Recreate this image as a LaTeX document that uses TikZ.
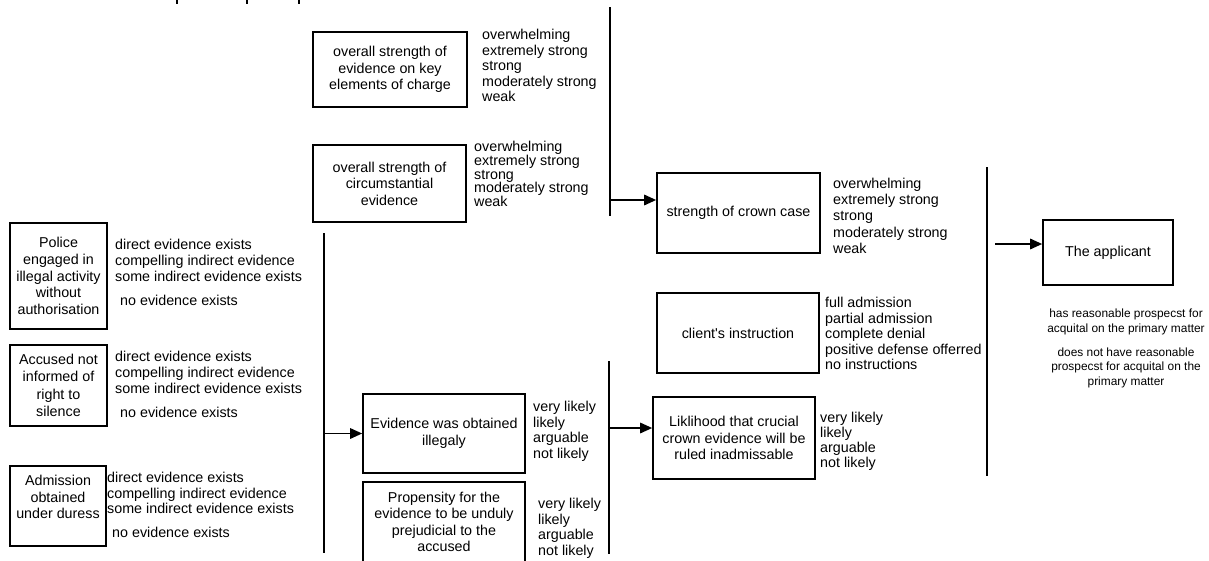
\documentclass[tikz,border=0pt]{standalone}
\usepackage{fontspec}
\setmainfont{Liberation Sans}[Ligatures=TeXOff]
\usetikzlibrary{arrows.meta}
\begin{document}
\begin{tikzpicture}[x=1pt,y=-1pt,
  box/.style={draw, line width=1.7pt, align=center, inner sep=0pt, font=\fontsize{14.3}{16.5}\selectfont},
  opts/.style={anchor=base west, align=left, inner sep=0pt},
  bus/.style={line width=1.7pt},
  arr/.style={line width=1.7pt, -{Triangle[length=12pt,width=10.5pt]}},
  outc/.style={align=center, inner sep=0pt, font=\fontsize{11.9}{14.5}\selectfont}]
\useasboundingbox (0,0) rectangle (1209,560);

% cut-off remnants at the top edge
\draw[line width=1.6pt] (177,0) -- (177,3.5);
\draw[line width=1.6pt] (247,0) -- (247,3.5);
\draw[line width=1.6pt] (299,0) -- (299,3.5);

% boxes
\node[box, minimum width=154pt, minimum height=75pt] (k1) at (390,69.5) {overall strength of\\evidence on key\\elements of charge};
\node[box, minimum width=153pt, minimum height=77pt] (k2) at (389.5,183.5) {overall strength of\\circumstantial\\evidence};
\node[box, minimum width=163pt, minimum height=80pt] (crown) at (738.5,213) {strength of crown case};
\node[box, minimum width=162pt, minimum height=80pt] (client) at (738,333) {client's instruction};
\node[box, minimum width=162pt, minimum height=82pt] (likl) at (734,438) {Liklihood that crucial\\crown evidence will be\\ruled inadmissable};
\node[box, minimum width=162pt, minimum height=79pt] (evid) at (444,433.5) {Evidence was obtained\\illegaly};
\node[box, minimum width=162pt, minimum height=80pt] (prop) at (444,522) {Propensity for the\\evidence to be unduly\\prejudicial to the\\accused};
\node[box, minimum width=97pt, minimum height=106pt, font=\fontsize{14.3}{16.8}\selectfont] (police) at (58.5,276) {Police\\engaged in\\illegal activity\\without\\authorisation};
\node[box, minimum width=97pt, minimum height=81pt, font=\fontsize{14.3}{17.3}\selectfont] (accused) at (58.5,385.5) {Accused not\\informed of\\right to\\silence};
\node[box, minimum width=96pt, minimum height=80pt] (admis) at (58,506) {Admission\\obtained\\under duress\\[1.5pt]};
\node[box, minimum width=130pt, minimum height=65pt] (app) at (1108,252.5) {The applicant};

% option lists (anchor = baseline of the last line)
\node[opts, font=\fontsize{14.3}{15.5}\selectfont] (o1) at (482,101.5) {overwhelming\\extremely strong\\strong\\moderately strong\\weak};
\node[opts, font=\fontsize{14.3}{13.8}\selectfont] (o2) at (474,206.7) {overwhelming\\extremely strong\\strong\\moderately strong\\weak};
\node[opts, font=\fontsize{14.3}{16.2}\selectfont] (o3) at (833,253.3) {overwhelming\\extremely strong\\strong\\moderately strong\\weak};
\node[opts, font=\fontsize{14.3}{15.5}\selectfont] (o4) at (825,369.5) {full admission\\partial admission\\complete denial\\positive defense offerred\\no instructions};
\node[opts, font=\fontsize{14.3}{15}\selectfont] (o5) at (820,467.5) {very likely\\likely\\arguable\\not likely};
\node[opts, font=\fontsize{14.3}{15.7}\selectfont] (o6) at (533,458.6) {very likely\\likely\\arguable\\not likely};
\node[opts, font=\fontsize{14.3}{15.7}\selectfont] (o7) at (538,555.6) {very likely\\likely\\arguable\\not likely};
\node[opts, font=\fontsize{14.3}{16}\selectfont] (p1) at (115,281.5) {direct evidence exists\\compelling indirect evidence\\some indirect evidence exists};
\node[opts, font=\fontsize{14.3}{16}\selectfont] (p2) at (120,305.5) {no evidence exists};
\node[opts, font=\fontsize{14.3}{16}\selectfont] (a1) at (115,393.5) {direct evidence exists\\compelling indirect evidence\\some indirect evidence exists};
\node[opts, font=\fontsize{14.3}{16}\selectfont] (a2) at (120,417.5) {no evidence exists};
\node[opts, font=\fontsize{14.3}{15.5}\selectfont] (d1) at (107,513.5) {direct evidence exists\\compelling indirect evidence\\some indirect evidence exists};
\node[opts, font=\fontsize{14.3}{16}\selectfont] (d2) at (112,537.5) {no evidence exists};

% outcomes
\node[outc] (out1) at (1126,322) {has reasonable prospecst for\\acquital on the primary matter};
\node[outc] (out2) at (1126,367.5) {does not have reasonable\\prospecst for acquital on the\\primary matter};

% buses and arrows
\coordinate (b1t) at (610,7);
\coordinate (b1b) at (610,216);
\coordinate (b1m) at (610,200);
\draw[bus] (b1t) -- (b1b);
\draw[arr] (b1m) -- (b1m -| crown.west);

\coordinate (b2t) at (987,167);
\coordinate (b2b) at (987,476);
\coordinate (b2m) at (995,244);
\draw[bus] (b2t) -- (b2b);
\draw[arr] (b2m) -- (b2m -| app.west);

\coordinate (b3t) at (609,361);
\coordinate (b3b) at (609,554);
\coordinate (b3m) at (609,428);
\draw[bus] (b3t) -- (b3b);
\draw[arr] (b3m) -- (b3m -| likl.west);

\coordinate (b4t) at (324,233);
\coordinate (b4b) at (324,553);
\coordinate (b4m) at (324,433.5);
\draw[bus] (b4t) -- (b4b);
\draw[arr] (b4m) -- (b4m -| evid.west);
\end{tikzpicture}
\end{document}
